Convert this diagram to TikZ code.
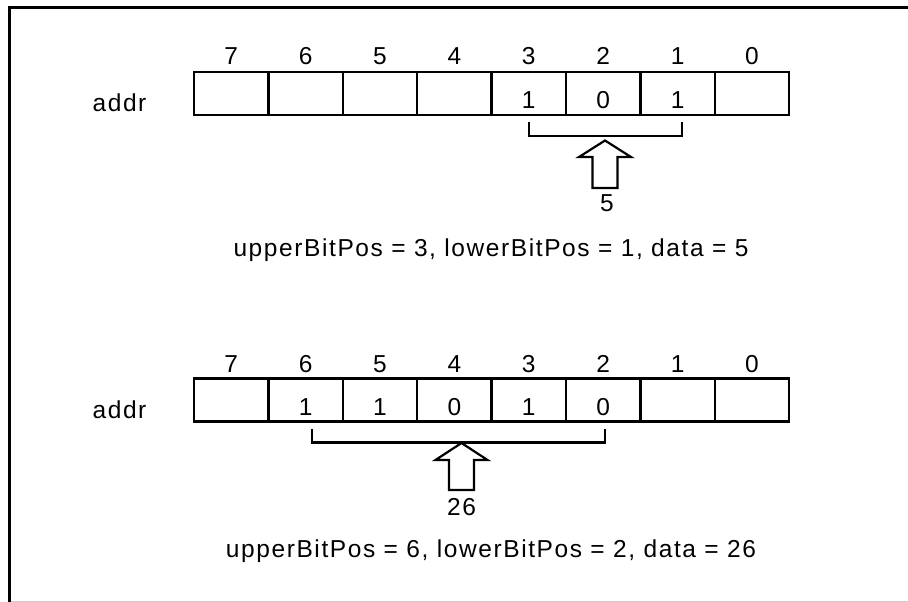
\documentclass[tikz,border=0pt]{standalone}
\usepackage{fontspec}
\setmainfont{Liberation Sans}[LetterSpace=6.5]
\usetikzlibrary{calc}
\begin{document}
\begin{tikzpicture}[x=1pt,y=-1pt,
  lbl/.style={font=\fontsize{24.5}{28}\selectfont, inner sep=0pt, anchor=base},
  cellbox/.style={draw, line width=2.5pt, minimum width=74.4pt, minimum height=43pt, inner sep=0pt, outer sep=0pt},
  brk/.style={line width=2.2pt},
  blockarrow/.style={draw, line width=2.2pt, fill=white, line join=miter}]
\useasboundingbox (0,0) rectangle (908,602);
% frame
\draw[line width=3pt] (9.5,602) -- (9.5,7.5) -- (908,7.5);
\draw[black!20, line width=1pt] (11,601.5) -- (908,601.5);

% ---------- top register ----------
\foreach \b in {0,...,7}{
  \node[cellbox] (t\b) at ({194+74.4*(7-\b)+37.2},93.5) {};
  \node[lbl] (tl\b) at ({194+74.4*(7-\b)+37.2},65) {\b};
}
\node[lbl] (taddr) at (119.5,111) {addr};
\node[lbl] (tv3) at ($(t3.center)+(0,15)$) {1};
\node[lbl] (tv2) at ($(t2.center)+(0,15)$) {0};
\node[lbl] (tv1) at ($(t1.center)+(0,15)$) {1};
\coordinate (tbl) at (529,122);
\coordinate (tbr) at (682,122);
\draw[brk] (tbl) -- ++(0,14) -| (tbr);
\coordinate (ttip) at (605,140.5);
\draw[blockarrow] (ttip) -- ++(26,16.5) -- ++(-13.5,0) -- ++(0,31) -- ++(-25,0) -- ++(0,-31) -- ++(-13.5,0) -- cycle;
\node[lbl] (tval) at (607,211.5) {5};
\node[lbl] (tcap) at (491,256) {upperBitPos = 3, lowerBitPos = 1, data = 5};

% ---------- bottom register ----------
\foreach \b in {0,...,7}{
  \node[cellbox] (u\b) at ({194+74.4*(7-\b)+37.2},400) {};
  \node[lbl] (ul\b) at ({194+74.4*(7-\b)+37.2},372) {\b};
}
\node[lbl] (uaddr) at (119.5,418) {addr};
\node[lbl] (uv6) at ($(u6.center)+(0,15)$) {1};
\node[lbl] (uv5) at ($(u5.center)+(0,15)$) {1};
\node[lbl] (uv4) at ($(u4.center)+(0,15)$) {0};
\node[lbl] (uv3) at ($(u3.center)+(0,15)$) {1};
\node[lbl] (uv2) at ($(u2.center)+(0,15)$) {0};
\coordinate (ubl) at (312,429);
\coordinate (ubr) at (605,429);
\draw[brk] (ubl) -- ++(0,13.5) -| (ubr);
\coordinate (utip) at (461.5,443);
\draw[blockarrow] (utip) -- ++(26,17) -- ++(-13.5,0) -- ++(0,30) -- ++(-25,0) -- ++(0,-30) -- ++(-13.5,0) -- cycle;
\node[lbl] (uval) at (461.5,515) {26};
\node[lbl] (ucap) at (491,557) {upperBitPos = 6, lowerBitPos = 2, data = 26};
\end{tikzpicture}
\end{document}
